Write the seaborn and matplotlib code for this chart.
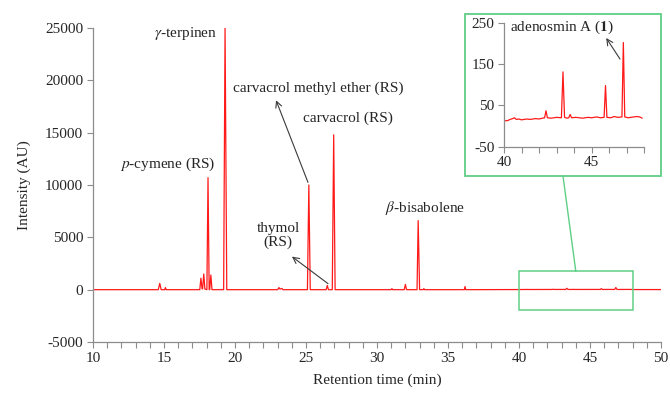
import numpy as np
import pandas as pd
import seaborn as sns
import matplotlib
matplotlib.use("Agg")
import matplotlib.pyplot as plt
from matplotlib.patches import Rectangle, ConnectionPatch
from matplotlib.ticker import MultipleLocator

# ───── data ──────────────────────────────────────────────────────────────────
# retention time (min) and intensity (AU) of the trace, baseline + peak apexes
rt = [10.0, 14.6, 14.7, 14.8, 15.05, 15.1, 15.15,
      17.52, 17.6, 17.68, 17.72, 17.8, 17.88, 18.02, 18.1, 18.18, 18.22, 18.3, 18.38,
      19.2, 19.3, 19.42,
      23.0, 23.1, 23.17, 23.3, 23.38,
      25.1, 25.2, 25.3, 26.42, 26.5, 26.58, 26.85, 26.95, 27.05,
      31.0, 31.05, 31.1, 31.92, 32.0, 32.08, 32.82, 32.9, 33.0, 33.25, 33.3, 33.35,
      36.15, 36.2, 36.25, 39.9,
      40.0, 40.2, 40.35, 40.5, 40.6, 40.7, 40.85, 41.0, 41.3, 41.5, 41.8, 42.0,
      42.2, 42.32, 42.4, 42.48, 42.7, 43.0, 43.28, 43.37, 43.46, 43.6, 43.7, 43.78,
      43.86, 44.1, 44.5, 44.8, 45.0, 45.3, 45.5,
      45.72, 45.8, 45.88, 46.1, 46.3, 46.5, 46.74, 46.82, 46.9, 47.1, 47.4, 47.6,
      47.75, 47.9,
      48.2, 50.0]
intensity = [0, 0, 600, 0, 0, 200, 0,
             0, 1100, 80, 80, 1500, 60, 0, 10700, 0, 0, 1400, 0,
             0, 25000, 0,
             0, 200, 50, 120, 0,
             0, 10000, 0, 0, 400, 0, 0, 14800, 0,
             0, 100, 0, 0, 500, 0, 0, 6600, 0, 0, 100, 0,
             0, 300, 0, 10,
             13, 13, 16, 18, 20, 16, 17, 15, 17, 16, 18, 17,
             19, 20, 37, 20, 19, 21, 20, 131, 21, 19, 20, 28,
             20, 21, 19, 21, 20, 22, 20,
             21, 98, 21, 20, 23, 21, 22, 202, 22, 20, 22, 23,
             22, 19,
             10, 10]

main_xticks = [10, 15, 20, 25, 30, 35, 40, 45, 50]
main_yticks = [-5000, 0, 5000, 10000, 15000, 20000, 25000]
zoom_xticks = [40, 45]
zoom_yticks = [-50, 50, 150, 250]

trace = pd.DataFrame({"rt": rt, "intensity": intensity})

# ───── style ─────────────────────────────────────────────────────────────────
sns.set_style("ticks")
plt.rcParams["font.family"] = ["Liberation Serif", "DejaVu Serif"]
plt.rcParams["mathtext.fontset"] = "stix"
plt.rcParams["axes.unicode_minus"] = False
plt.rcParams["font.size"] = 11
GRAY = "#8c8c8c"
GREEN = "#5fcf85"
RED = "#ff1a1a"
ARROW = dict(arrowstyle="->", color="#3a3a3a", lw=0.8, shrinkA=0, shrinkB=0)


def style_axes(ax):
    sns.despine(ax=ax)
    for s in ("left", "bottom"):
        ax.spines[s].set_color(GRAY)
        ax.spines[s].set_linewidth(0.9)
    ax.tick_params(which="both", direction="out", color=GRAY, length=4,
                   width=0.8, labelsize=11, pad=3)


fig = plt.figure(figsize=(6.7, 3.93), dpi=100)

# ───── main chromatogram ─────────────────────────────────────────────────────
ax = fig.add_axes([93 / 670, 1 - 342 / 393, 568 / 670, 314 / 393])
sns.lineplot(data=trace, x="rt", y="intensity", color=RED, lw=0.9, ax=ax)
ax.set_xlim(10, 50)
ax.set_ylim(-5000, 25000)
ax.set_xticks(main_xticks)
ax.set_yticks(main_yticks)
ax.xaxis.set_minor_locator(MultipleLocator(1))
style_axes(ax)
ax.set_xlabel("Retention time (min)", fontsize=11, labelpad=6)
ax.set_ylabel("Intensity (AU)", fontsize=11, labelpad=10)

ax.text(18.73, 24500, r"$\gamma$-terpinen", ha="right", va="center")
ax.text(18.6, 11950, r"$p$-cymene (RS)", ha="right", va="center")
ax.text(19.86, 19250, "carvacrol methyl ether (RS)", ha="left", va="center")
ax.text(24.79, 16380, "carvacrol (RS)", ha="left", va="center")
ax.text(23.03, 5170, "thymol\n(RS)", ha="center", va="center",
        multialignment="center", linespacing=1.1)
ax.text(30.56, 7850, r"$\beta$-bisabolene", ha="left", va="center")
ax.annotate("", xy=(22.89, 18100), xytext=(25.14, 10250), arrowprops=ARROW)
ax.annotate("", xy=(24.01, 3160), xytext=(26.55, 575), arrowprops=ARROW)

# zoom window on the main trace
ax.add_patch(Rectangle((40, -1900), 8, 3650, fill=False, ec=GREEN, lw=1.1, zorder=4))

# ───── inset ─────────────────────────────────────────────────────────────────
fig.add_artist(Rectangle((465 / 670, 1 - 176 / 393), 196 / 670, 162 / 393,
                         transform=fig.transFigure, fill=False, ec=GREEN, lw=1.3))
con = ConnectionPatch(xyA=(44.0, 1750), coordsA=ax.transData,
                      xyB=(563 / 670, 1 - 176 / 393), coordsB=fig.transFigure,
                      color=GREEN, lw=1.0)
fig.add_artist(con)

axi = fig.add_axes([504 / 670, 1 - 146.7 / 393, 140 / 670, 124 / 393])
zoom = trace[(trace.rt >= 40) & (trace.rt <= 48)]
sns.lineplot(data=zoom, x="rt", y="intensity", color=RED, lw=0.9, ax=axi)
axi.set_xlim(40, 48)
axi.set_ylim(-50, 250)
axi.set_xticks(zoom_xticks)
axi.set_yticks(zoom_yticks)
axi.xaxis.set_minor_locator(MultipleLocator(1))
style_axes(axi)
axi.set_xlabel("")
axi.set_ylabel("")
axi.text(40.32, 240, r"adenosmin A ($\mathbf{1}$)", ha="left", va="center")
axi.annotate("", xy=(45.84, 213), xytext=(46.63, 162), arrowprops=ARROW)

fig.savefig("out.png", dpi=100)
